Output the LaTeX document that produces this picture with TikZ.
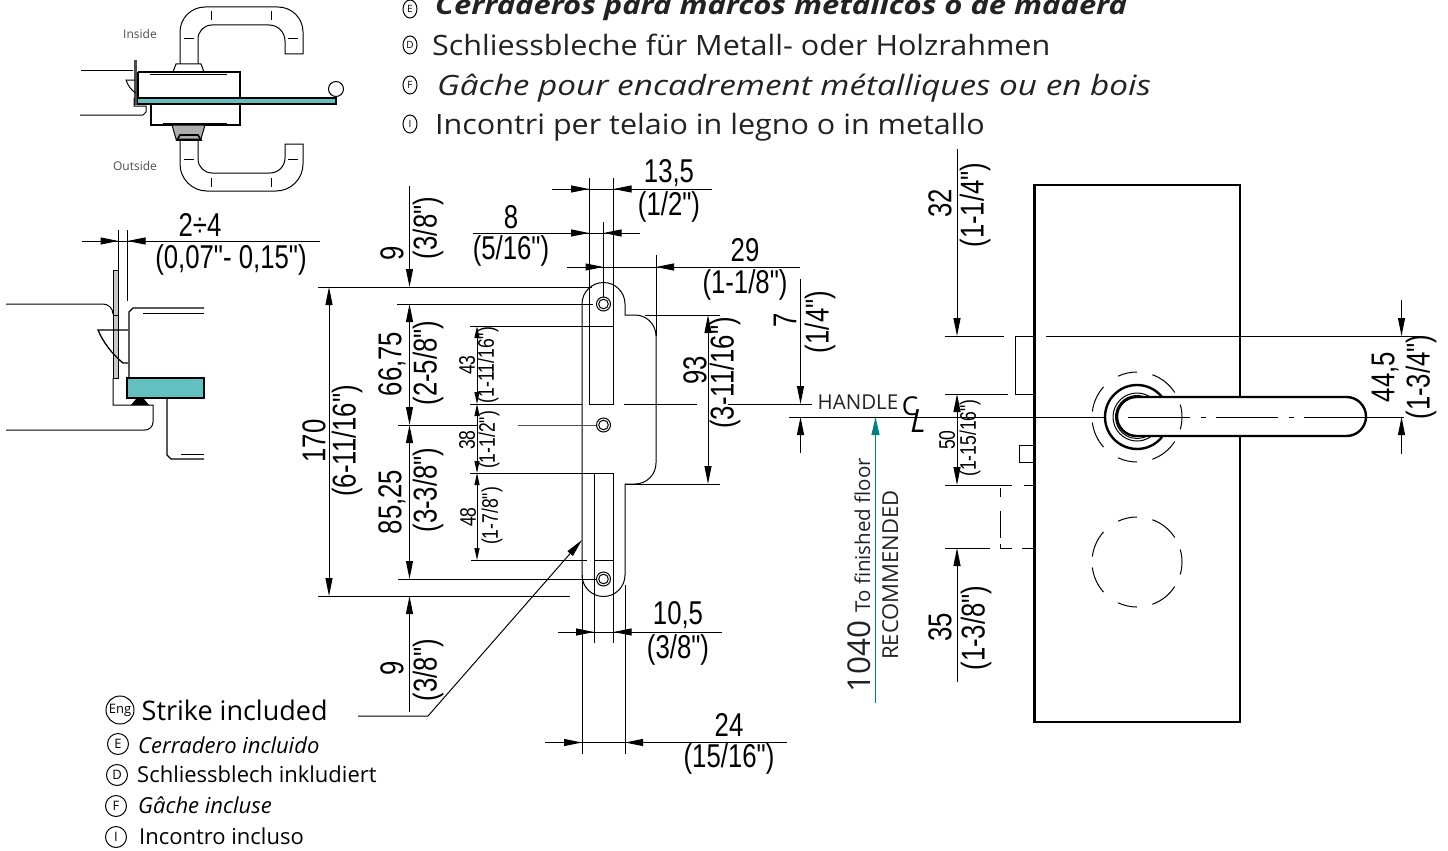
\documentclass[tikz,border=0pt]{standalone}
\usepackage{fontspec}
\setmainfont{Open Sans}
\newfontfamily\dimfont[FakeStretch=0.78]{Liberation Sans}
\newfontfamily\headfont[FakeStretch=1.09]{Open Sans}
\newfontfamily\headslant[FakeStretch=1.19]{Open Sans}
\usetikzlibrary{shapes.geometric,positioning,arrows.meta}
\definecolor{glassteal}{HTML}{62C0C0}
\definecolor{lineteal}{HTML}{008080}
\definecolor{textgray}{HTML}{222222}
\tikzset{
  thinline/.style={line width=1pt},
  thickline/.style={line width=2.8pt},
  dimline/.style={line width=1pt,-{Triangle[length=18pt,width=7pt]}},
  smalldim/.style={line width=1pt,-{Triangle[length=12pt,width=5pt]}},
  dimtext/.style={font=\dimfont\fontsize{33}{33}\selectfont,inner sep=0pt},
  dimside/.style={dimtext,rotate=90},
  smallside/.style={font=\dimfont\fontsize{22.5}{22.5}\selectfont,inner sep=0pt,rotate=90},
  toptext/.style={anchor=west,inner sep=0pt,text=textgray,font=\headfont\fontsize{28}{28}\selectfont},
  listtext/.style={anchor=west,inner sep=0pt,font=\fontsize{22}{22}\selectfont},
  toptag/.style={ellipse,draw,thinline,inner sep=0pt,minimum width=14pt,minimum height=18pt,font=\fontsize{10}{10}\selectfont},
  listtag/.style={circle,draw,thinline,inner sep=0pt,minimum size=21pt,font=\fontsize{13}{13}\selectfont},
  sidetext/.style={inner sep=0pt,text=black!70,font=\fontsize{12}{12}\selectfont}
}
\begin{document}
\begin{tikzpicture}[x=1pt,y=-1pt]
    \useasboundingbox (0,0) rectangle (1448,851);

    % lever seen from above
    \draw[thinline] (180,64) -- (180,32) arc[start angle=180,end angle=270,radius=25] -- (278,7) arc[start angle=270,end angle=360,radius=25] -- (303,54) -- (285,54) -- (285,41) arc[start angle=0,end angle=-90,radius=16] -- (212,25) arc[start angle=-90,end angle=-180,radius=14] -- (198,64);
    \draw[thinline] (180,140) -- (180,164) arc[start angle=180,end angle=90,radius=27] -- (276,191) arc[start angle=90,end angle=0,radius=27] -- (303,144) -- (285,144) -- (285,158) arc[start angle=0,end angle=90,radius=15] -- (212,173) arc[start angle=90,end angle=180,radius=14] -- (198,140);
    \foreach \x in {211,271} {
        \draw[thinline] (\x,11) -- (\x,20);
        \draw[thinline] (\x,178) -- (\x,187);
    }
    \foreach \x in {184,288} {
        \draw[thinline] (\x,39) -- ++(10,0);
        \draw[thinline] (\x,159) -- ++(10,0);
    }
    \draw[thinline] (173,72) -- (176,64) -- (201,64) -- (204,72);
    \draw[line width=1.1pt] (138,72) -- (240,72) -- (240,97);
    \draw[line width=1.1pt] (138,72) -- (138,97);
    \draw[thinline] (150,75) -- (227,75);
    \draw[line width=1.1pt] (151,105) -- (151,125) -- (240,125) -- (240,105);
    \draw[thinline] (163,123) -- (227,123);
    \draw[thinline,fill=gray!65] (172,125) -- (205,125) -- (201,139) -- (176,139) -- cycle;
    \draw[line width=1.6pt] (177,140) -- (180,135) -- (198,135) -- (201,140) -- cycle;
    \draw[line width=2pt,fill=glassteal] (137,97.5) rectangle (336,103.5);
    \draw[thinline] (336,89) circle (7.5);
    \draw[line width=3pt,black!70] (135,60) -- (135,105);
    \draw[thinline] (81,71) -- (133,71);
    \draw[thinline] (80,115) -- (143,115) -- (146,112) -- (146,106) -- (134,106) -- (134,98);
    \draw[thinline] (135,80) -- (126,80) .. controls (128,86) and (132,91) .. (136,93);
    \node[sidetext] (inside) at (140,34) {Inside};
    \node[sidetext] (outside) at (135,166) {Outside};

    % section through the glass
    \draw[thinline,fill=black!22] (113,270) rectangle (118.5,378);
    \draw[thinline] (6,304) -- (103,304) arc[start angle=-90,end angle=0,radius=10];
    \draw[thinline] (113,315) -- (118.5,315);
    \draw[line width=1.3pt] (204,308) -- (133,308) -- (129,312) -- (129,377);
    \draw[thinline] (143,313) -- (204,313);
    \draw[line width=1.3pt] (128,330) -- (98,330) .. controls (103,342) and (112,354) .. (123,363) -- (128,363);
    \draw[line width=2pt,fill=glassteal] (126.5,377.5) rectangle (204,398);
    \draw[thinline] (113,378) -- (113,405) -- (153,405) -- (153,422) arc[start angle=0,end angle=90,radius=8] -- (6,430);
    \fill (131,405) -- (136,399) -- (144,399) -- (149,405) -- cycle;
    \draw[line width=1.3pt] (167,398) -- (167,455) -- (171,459) -- (204,459);
    \draw[thinline] (181,454) -- (204,454);
    \draw[thinline] (118.5,230) -- (118.5,270);
    \draw[thinline] (127.5,230) -- (127.5,301);
    \draw[thinline] (82,241) -- (320,241);
    \draw[dimline] (100,241) -- (118.5,241);
    \draw[dimline] (147,241) -- (127.5,241);
    \node[dimtext] (gapmm) at (200,225) {2÷4};
    \node[dimtext] (gapin) at (231,260) {(0,07"- 0,15")};

    % strike plate
    \draw[thinline] (582,304) arc[start angle=180,end angle=360,radius=21.5] -- (625,315) -- (635,315) arc[start angle=-90,end angle=0,radius=21] -- (656,463) arc[start angle=0,end angle=90,radius=21] -- (625,484) -- (625,575) arc[start angle=0,end angle=180,radius=21.5] -- cycle;
    \draw[thinline] (589,178) -- (589,404) -- (613.5,404) -- (613.5,178);
    \draw[thinline] (594,643) -- (594,473) -- (613.5,473) -- (613.5,643);
    \draw[thinline] (594,560) -- (613.5,560);
    \draw[thinline] (603.5,222) -- (603.5,297);
    \foreach \y in {304,425,579} {
        \draw[thinline] (603.5,\y) circle (7);
        \draw[thinline] (603.5,\y) circle (4.8);
    }
    \draw[thinline] (582,575) -- (582,754);
    \draw[thinline] (625,585) -- (625,754);
    \draw[thinline] (656,255) -- (656,336);
    \draw[thinline] (318,287) -- (592,287);
    \draw[thinline] (397,304) -- (593,304);
    \draw[thinline] (470,326) -- (613.5,326);
    \draw[thinline] (470,404) -- (582,404);
    \draw[thinline] (624,404) -- (697,404);
    \draw[thinline] (728,404) -- (812,404);
    \draw[thinline] (398,425) -- (477,425);
    \draw[thinline,black!70] (518,425) -- (596,425);
    \draw[thinline] (470,473) -- (613.5,473);
    \draw[thinline] (471,560) -- (587,560);
    \draw[thinline] (398,579) -- (596,579);
    \draw[thinline] (318,596) -- (570,596);
    \draw[thinline] (645,315) -- (720,315);
    \draw[thinline] (625,484) -- (720,484);

    % dimensions of the strike
    \draw[thinline] (552,189) -- (712,189);
    \draw[dimline] (570,189) -- (589,189);
    \draw[dimline] (632,189) -- (613.5,189);
    \node[dimtext] (widthmm) at (669,173) {13,5};
    \node[dimtext] (widthin) at (669,207) {(1/2")};
    \draw[thinline] (473,233) -- (640,233);
    \draw[dimline] (570,233) -- (589,233);
    \draw[dimline] (622,233) -- (603.5,233);
    \node[dimtext] (screwmm) at (511,217) {8};
    \node[dimtext] (screwin) at (511,251) {(5/16")};
    \draw[thinline] (567,267) -- (800,267);
    \draw[dimline] (585,267) -- (603.5,267);
    \draw[dimline] (675,267) -- (656,267);
    \node[dimtext] (reachmm) at (745,250) {29};
    \node[dimtext] (reachin) at (745,285) {(1-1/8")};
    \draw[thinline] (558,632) -- (722,632);
    \draw[dimline] (575,632) -- (594,632);
    \draw[dimline] (632,632) -- (613.5,632);
    \node[dimtext] (slotmm) at (678,615) {10,5};
    \node[dimtext] (slotin) at (678,650) {(3/8")};
    \draw[thinline] (545,742.5) -- (787,742.5);
    \draw[dimline] (563,742.5) -- (582,742.5);
    \draw[dimline] (644,742.5) -- (625,742.5);
    \node[dimtext] (platemm) at (729,725) {24};
    \node[dimtext] (platein) at (729,759) {(15/16")};
    \draw[dimline] (329,441) -- (329,287);
    \draw[dimline] (329,441) -- (329,596);
    \node[dimside] (heightmm) at (314,441) {170};
    \node[dimside] (heightin) at (347,441) {(6-11/16")};
    \draw[dimline] (409.5,186) -- (409.5,287);
    \draw[dimline] (409.5,365) -- (409.5,304);
    \draw[dimline] (409.5,365) -- (409.5,425);
    \draw[dimline] (409.5,500) -- (409.5,425);
    \draw[dimline] (409.5,500) -- (409.5,579);
    \draw[dimline] (409.5,712) -- (409.5,596);
    \node[dimside] (topmm) at (392,253) {9};
    \node[dimside] (topin) at (428,228) {(3/8")};
    \node[dimside] (uppermm) at (392,364) {66,75};
    \node[dimside] (upperin) at (428,363) {(2-5/8")};
    \node[dimside] (lowermm) at (392,502) {85,25};
    \node[dimside] (lowerin) at (428,490) {(3-3/8")};
    \node[dimside] (bottommm) at (392,668) {9};
    \node[dimside] (bottomin) at (428,670) {(3/8")};
    \draw[smalldim] (477,365) -- (477,326);
    \draw[smalldim] (477,365) -- (477,404);
    \draw[smalldim] (477,440) -- (477,404);
    \draw[smalldim] (477,440) -- (477,473);
    \draw[smalldim] (477,517) -- (477,473);
    \draw[smalldim] (477,517) -- (477,560);
    \node[smallside] (latchmm) at (467,365) {43};
    \node[smallside] (latchin) at (488,365) {(1-11/16")};
    \node[smallside] (keepmm) at (467,440) {38};
    \node[smallside] (keepin) at (489,440) {(1-1/2")};
    \node[smallside] (pinmm) at (468,517) {48};
    \node[smallside] (pinin) at (492,516) {(1-7/8")};
    \draw[dimline] (708,400) -- (708,315);
    \draw[dimline] (708,400) -- (708,484);
    \node[dimside] (latchpos) at (695,370) {93};
    \node[dimside] (latchposin) at (725,373) {(3-11/16")};
    \draw[dimline] (800.5,279) -- (800.5,404);
    \draw[dimline] (800.5,453) -- (800.5,417);
    \node[dimside] (offsetmm) at (785,320) {7};
    \node[dimside] (offsetin) at (820,322) {(1/4")};

    % door panel
    \draw[thickline] (1034.5,185) rectangle (1240,722);
    \draw[thinline] (789,417) -- (1106,417);
    \draw[thinline] (945,336) -- (1004,336);
    \draw[thinline] (1046,336) -- (1420,336);
    \draw[thinline] (1034.5,336) -- (1015,336) -- (1015,394) -- (1034.5,394);
    \draw[thinline] (945,394) -- (1008,394);
    \draw[thinline] (1034.5,445) -- (1019,445) -- (1019,462) -- (1034.5,462);
    \draw[thinline] (945,485) -- (1012,485);
    \draw[thinline] (1024,485) -- (1034.5,485);
    \draw[thinline] (945,548) -- (990,548);
    \draw[thinline] (1000,548) -- (1012,548);
    \draw[thinline] (1022,548) -- (1034.5,548);
    \draw[thinline] (1000.5,488) -- (1000.5,497);
    \draw[thinline] (1000.5,511) -- (1000.5,538);
    \draw[thinline] (1000.5,544) -- (1000.5,548);

    % handle on the door
    \draw[line width=2.4pt] ({1137+32*cos(-38.7)},{417+32*sin(-38.7)}) arc[start angle=-38.7,end angle=-321.3,radius=32];
    \draw[thinline] ({1137+24*cos(-55)},{417+24*sin(-55)}) arc[start angle=-55,end angle=-305,radius=24];
    \draw[thinline] ({1137+21.5*cos(-60)},{417+21.5*sin(-60)}) arc[start angle=-60,end angle=-300,radius=21.5];
    \draw[line width=2.4pt,fill=white] (1136.5,397) -- (1346.5,397) arc[start angle=-90,end angle=90,radius=19.5] -- (1136.5,436) arc[start angle=90,end angle=270,radius=19.5] -- cycle;
    \draw[thinline,dash pattern=on 62pt off 10pt on 5pt off 11pt] (1366,417) -- (1117,417);
    \draw[thinline] (1366,417) -- (1404,417);
    \foreach \cy in {417,562} {
        \foreach \a/\b in {-16/16,33/70,90/115,138/173,187/222,245/270,290/327} {
            \draw[thinline] ({1137+45*cos(\a)},{\cy-45*sin(\a)}) arc[start angle=-\a,end angle=-\b,radius=45];
        }
    }

    % dimensions of the door
    \draw[dimline] (957,149) -- (957,336);
    \draw[dimline] (957,440) -- (957,394);
    \draw[dimline] (957,440) -- (957,485);
    \draw[dimline] (957,682) -- (957,548);
    \node[dimside] (roseupmm) at (940,203) {32};
    \node[dimside] (roseupin) at (975,205) {(1-1/4")};
    \node[smallside] (rosemm) at (947,440) {50};
    \node[smallside] (rosein) at (970,438) {(1-15/16")};
    \node[dimside] (rosedownmm) at (940,627) {35};
    \node[dimside] (rosedownin) at (976,628) {(1-3/8")};
    \draw[dimline] (1401.5,300) -- (1401.5,336);
    \draw[dimline] (1401.5,454) -- (1401.5,417);
    \node[dimside] (latchaxis) at (1385,377) {44,5};
    \node[dimside] (latchaxisin) at (1421,377) {(1-3/4")};
    \node[inner sep=0pt,text=textgray,font=\fontsize{20.5}{20.5}\selectfont] (handletext) at (858,402) {HANDLE};
    \node[inner sep=0pt,font=\fontsize{26}{26}\selectfont] (centerC) at (910,406) {C};
    \node[inner sep=0pt,font=\itshape\fontsize{32}{32}\selectfont] (centerL) at (918,421) {L};
    \draw[lineteal,line width=1pt,-{Triangle[length=18pt,width=8pt]}] (875.5,703) -- (875.5,417);
    \node[anchor=base west,rotate=90,inner sep=0pt,text=textgray] (floortext) at (870,693) {\fontsize{31.5}{31.5}\selectfont 1040 \fontsize{20.5}{20.5}\selectfont To finished floor};
    \node[anchor=base west,rotate=90,inner sep=0pt,text=textgray,font=\fontsize{22}{22}\selectfont] (recommended) at (898,660) {RECOMMENDED};

    % heading
    \node[toptag] (tagtope) at (410,9) {E};
    \node[toptext,font=\headslant\bfseries\itshape\fontsize{26}{26}\selectfont] (titlee) at (435,8) {Cerraderos para marcos metálicos o de madera};
    \node[toptag] (tagtopd) at (410,45) {D};
    \node[toptext] (titled) at (432,45) {Schliessbleche für Metall- oder Holzrahmen};
    \node[toptag] (tagtopf) at (410,85) {F};
    \node[toptext,font=\headslant\itshape\fontsize{28}{28}\selectfont] (titlef) at (437,88) {Gâche pour encadrement métalliques ou en bois};
    \node[toptag] (tagtopi) at (410,124) {I};
    \node[toptext] (titlei) at (435,127) {Incontri per telaio in legno o in metallo};

    % list of languages
    \node[listtag,minimum size=28pt] (tageng) at (120,710) {Eng};
    \node[listtext,font=\fontsize{27}{27}\selectfont,right=7pt of tageng] (listeng) {Strike included};
    \node[listtag] (tage) at (118,744) {E};
    \node[listtext,font=\itshape\fontsize{22}{22}\selectfont] (liste) at (138,745) {Cerradero incluido};
    \node[listtag] (tagd) at (117,775) {D};
    \node[listtext] (listd) at (137,774) {Schliessblech inkludiert};
    \node[listtag] (tagf) at (116,806) {F};
    \node[listtext,font=\itshape\fontsize{22}{22}\selectfont] (listf) at (138,805) {Gâche incluse};
    \node[listtag] (tagi) at (116,837) {I};
    \node[listtext] (listi) at (139,836) {Incontro incluso};
    \coordinate (leaderstart) at (358,716);
    \coordinate (leaderknee) at (428,716);
    \coordinate (leadertip) at (582,540);
    \draw[dimline] (leaderstart) -- (leaderknee) -- (leadertip);
\end{tikzpicture}
\end{document}
